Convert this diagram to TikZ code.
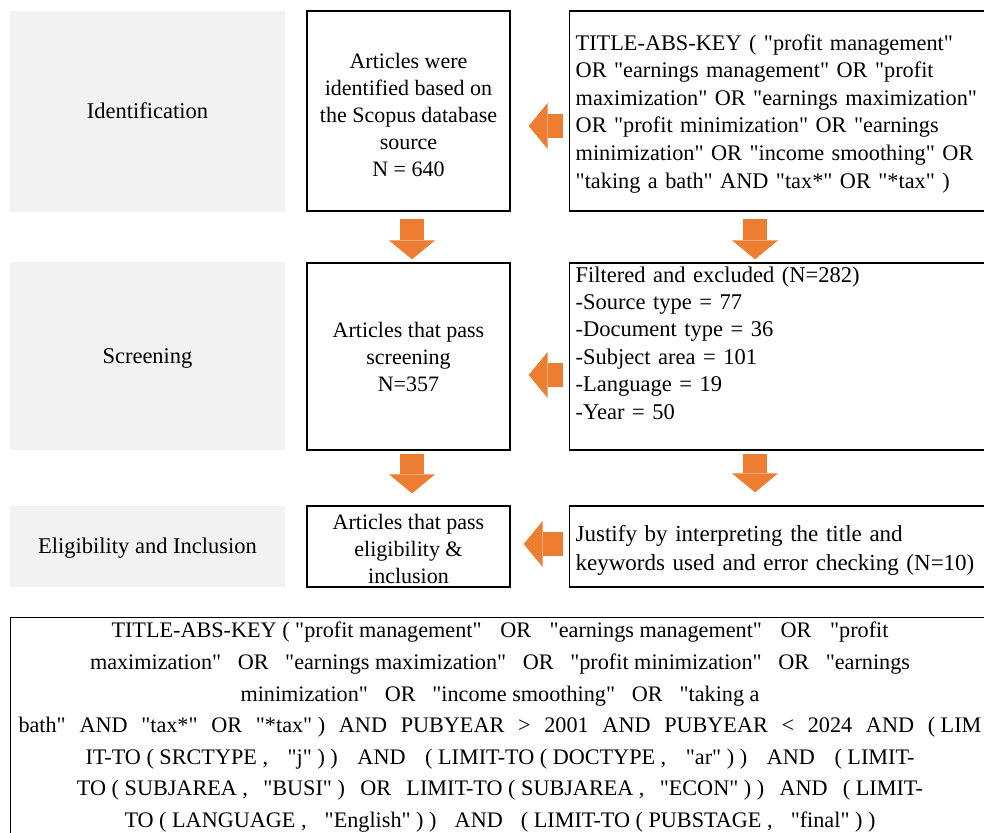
\documentclass[tikz,border=0pt]{standalone}
\usepackage{fontspec}
\setmainfont{Liberation Serif}[Ligatures=TeXOff]
\usetikzlibrary{arrows.meta,calc}
\definecolor{graybg}{HTML}{F2F2F2}
\definecolor{arroworange}{HTML}{ED7D31}
\newcommand{\fs}{\hspace{0.25em}}
\tikzset{
  stage/.style={fill=graybg, draw=none, inner sep=0pt, minimum width=275pt, text height=19pt, text depth=5pt, font=\fontsize{22.5}{27}\selectfont},
  midbox/.style={draw=black, line width=1.3pt, fill=white, inner sep=0pt, minimum width=203pt, align=center, font=\fontsize{22}{27}\selectfont},
  rightbox/.style={draw=black, line width=1.3pt, inner xsep=6pt, inner ysep=0pt, text width=419pt, anchor=west, align=left},
  blockarrow/.style={draw=arroworange, line width=24pt, -{Triangle[width=46pt,length=19pt,line width=0pt,fill=arroworange]}},
  querybox/.style={draw=black, line width=1.3pt, inner sep=0pt, anchor=north west},
}
\begin{document}
\begin{tikzpicture}[x=1pt,y=-1pt]
\useasboundingbox (0,0) rectangle (984,832);
\clip (0,0) rectangle (984,832);

% stage labels
\node[stage, minimum height=201pt] (g1) at (147.5,111.5) {Identification};
\node[stage, minimum height=188pt] (g2) at (147.5,356) {Screening};
\node[stage, minimum height=81pt] (g3) at (147.5,546.5) {Eligibility and Inclusion};

% middle boxes
\node[midbox, minimum height=200pt] (m1) at (408.5,111) {\rule{0pt}{23pt}Articles were\\identified based on\\the Scopus database\\source\\N = 640};
\node[midbox, minimum height=187pt] (m2) at (408.5,356.5) {Articles that pass\\screening\\N=357};
\node[midbox, minimum height=81pt] (m3) at (408.5,546.5) {\rule{0pt}{21pt}Articles that pass\\eligibility \&\\inclusion};

% right boxes
\node[rightbox, minimum height=200pt, font=\fontsize{22.3}{27.6}\selectfont] (r1) at (569,111) {\rule{0pt}{21pt}TITLE-ABS-KEY ( "profit management"\\OR "earnings management" OR "profit\\maximization" OR "earnings maximization"\\OR "profit minimization" OR "earnings\\minimization" OR "income smoothing" OR\\"taking a bath" AND "tax*" OR "*tax" )};
\node[rightbox, minimum height=187pt, font=\fontsize{22.5}{27.4}\selectfont] (r2) at (569,356.5) {Filtered and excluded (N=282)\\-Source type = 77\\-Document type = 36\\-Subject area = 101\\-Language = 19\\-Year = 50\\\mbox{}};
\node[rightbox, minimum height=81pt, font=\fontsize{23}{29}\selectfont] (r3) at (569,546.5) {\rule{0pt}{24pt}Justify by interpreting the title and\\keywords used and error checking (N=10)};

% bottom query box
\node[querybox, minimum width=990pt, minimum height=300pt] (q) at (10,617) {};
\node[anchor=north, align=center, inner sep=0pt, font=\fontsize{22.2}{31.6}\selectfont] (qt) at (500,622) {%
\makebox[777pt][s]{TITLE-ABS-KEY\fs(\fs"profit\fs management" OR "earnings\fs management" OR "profit}\\
\makebox[820pt][s]{maximization" OR "earnings\fs maximization" OR "profit\fs minimization" OR "earnings}\\
\makebox[519pt][s]{minimization" OR "income\fs smoothing" OR "taking\fs a}\\
\makebox[963pt][s]{bath" AND "tax*" OR "*tax"\fs) AND PUBYEAR > 2001 AND PUBYEAR < 2024 AND (\fs LIM}\\
\makebox[829pt][s]{IT-TO\fs(\fs SRCTYPE\fs, "j"\fs)\fs) AND (\fs LIMIT-TO\fs(\fs DOCTYPE\fs, "ar"\fs)\fs) AND (\fs LIMIT-}\\
\makebox[846pt][s]{TO\fs(\fs SUBJAREA\fs, "BUSI"\fs) OR LIMIT-TO\fs(\fs SUBJAREA\fs, "ECON"\fs)\fs) AND (\fs LIMIT-}\\
\makebox[751pt][s]{TO\fs(\fs LANGUAGE\fs, "English"\fs)\fs) AND (\fs LIMIT-TO\fs(\fs PUBSTAGE\fs, "final"\fs)\fs)}};

% horizontal block arrows (right to left)
\draw[blockarrow, shorten <=6pt, shorten >=18pt] ([yshift=-15pt]r1.west) -- ([yshift=-15pt]m1.east);
\draw[blockarrow, shorten <=6pt, shorten >=18pt] ([yshift=-18.5pt]r2.west) -- ([yshift=-18.5pt]m2.east);
\draw[blockarrow, shorten <=6pt, shorten >=13pt] ([yshift=2.5pt]r3.west) -- ([yshift=2.5pt]m3.east);

% vertical block arrows
\draw[blockarrow, shorten <=7pt, shorten >=3pt] ([xshift=3.5pt]m1.south) -- ([xshift=3.5pt]m2.north);
\draw[blockarrow, shorten <=3pt, shorten >=12pt] ([xshift=3.5pt]m2.south) -- ([xshift=3.5pt]m3.north);
\draw[blockarrow, shorten <=7pt, shorten >=3pt] ([xshift=186pt]r1.south west) -- ([xshift=186pt]r2.north west);
\draw[blockarrow, shorten <=3pt, shorten >=13pt] ([xshift=186pt]r2.south west) -- ([xshift=186pt]r3.north west);
\end{tikzpicture}
\end{document}
